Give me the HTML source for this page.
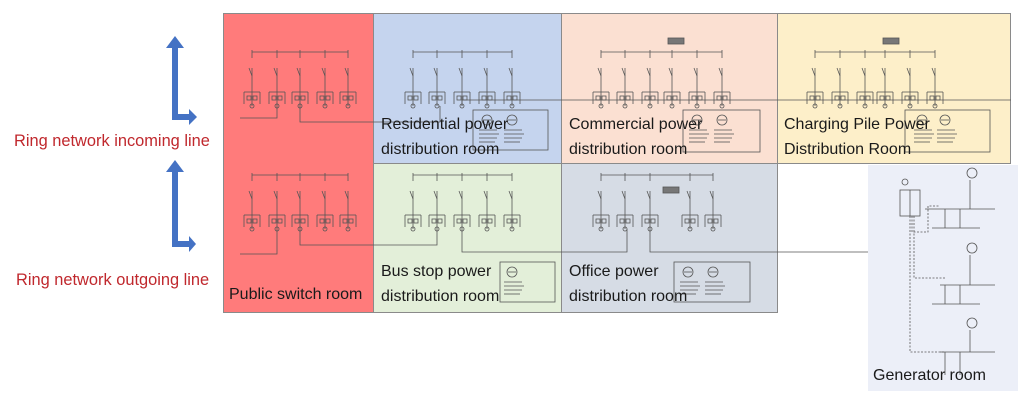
<!DOCTYPE html>
<html><head><meta charset="utf-8"><style>
html,body{margin:0;padding:0;background:#fff;}
body{width:1024px;height:401px;position:relative;overflow:hidden;font-family:"Liberation Sans","DejaVu Sans",sans-serif;}
.p{position:absolute;box-sizing:border-box;border:1px solid #8a8a8a;}
.t{position:absolute;font-size:16px;color:#1a1a1a;line-height:25px;white-space:nowrap;}
.r{position:absolute;font-size:16.4px;color:#c0282d;white-space:nowrap;}
svg{position:absolute;left:0;top:0;}
</style></head><body>
<div class="p" style="left:223px;top:13px;width:151px;height:300px;background:#ff7b7b;"></div>
<div class="p" style="left:373px;top:13px;width:189px;height:151px;background:#c5d4ee;"></div>
<div class="p" style="left:561px;top:13px;width:217px;height:151px;background:#fbe0d2;"></div>
<div class="p" style="left:777px;top:13px;width:234px;height:151px;background:#fdefc9;"></div>
<div class="p" style="left:373px;top:163px;width:189px;height:150px;background:#e3efd9;"></div>
<div class="p" style="left:561px;top:163px;width:217px;height:150px;background:#d6dce5;"></div>
<div class="p" style="left:868px;top:165px;width:150px;height:226px;background:#eceff8;border:none;"></div>

<svg width="1024" height="401" viewBox="0 0 1024 401">
<defs>
<g id="f" fill="none" stroke="#555" stroke-width="0.8">
<line x1="0" y1="-8" x2="0" y2="0"/><line x1="0" y1="10" x2="0" y2="48"/>
<line x1="-3" y1="10" x2="0" y2="18"/>
<rect x="-5" y="38" width="4" height="4"/><rect x="1" y="38" width="4" height="4"/>
<line x1="-8" y1="34" x2="8" y2="34"/><line x1="-8" y1="34" x2="-8" y2="46"/><line x1="8" y1="34" x2="8" y2="46"/>
<circle cx="0" cy="48" r="2"/>
</g>
<g id="bx" fill="none" stroke="#555" stroke-width="0.8">
<circle cx="0" cy="0" r="5"/><line x1="-4" y1="0" x2="4" y2="0"/>
<line x1="-8" y1="10" x2="10" y2="10"/><line x1="-8" y1="14" x2="12" y2="14"/><line x1="-8" y1="18" x2="10" y2="18"/><line x1="-8" y1="22" x2="8" y2="22"/>
</g>
</defs>
<g stroke="#555" stroke-width="0.8" fill="none">
<line x1="252" y1="52" x2="348" y2="52"/>
<use href="#f" x="252" y="58"/><use href="#f" x="277" y="58"/><use href="#f" x="300" y="58"/><use href="#f" x="325" y="58"/><use href="#f" x="348" y="58"/>
<polyline points="240,118 277,118 277,106"/><polyline points="300,106 300,122 373,122"/>
<line x1="252" y1="175" x2="348" y2="175"/>
<use href="#f" x="252" y="181"/><use href="#f" x="277" y="181"/><use href="#f" x="300" y="181"/><use href="#f" x="325" y="181"/><use href="#f" x="348" y="181"/>
<polyline points="240,254 277,254 277,229"/><polyline points="300,229 300,245 373,245"/>
<line x1="413" y1="52" x2="512" y2="52"/>
<use href="#f" x="413" y="58"/><use href="#f" x="437" y="58"/><use href="#f" x="462" y="58"/><use href="#f" x="487" y="58"/><use href="#f" x="512" y="58"/>
<polyline points="373,122 440,122 440,106"/><polyline points="462,106 462,100 561,100"/>
<rect x="473" y="110" width="75" height="40"/><use href="#bx" x="487" y="120"/><use href="#bx" x="512" y="120"/>
<line x1="601" y1="52" x2="722" y2="52"/>
<use href="#f" x="601" y="58"/><use href="#f" x="625" y="58"/><use href="#f" x="650" y="58"/><use href="#f" x="672" y="58"/><use href="#f" x="697" y="58"/><use href="#f" x="722" y="58"/>
<rect x="668" y="38" width="16" height="6" fill="#777"/>
<polyline points="561,100 777,100"/>
<rect x="683" y="110" width="77" height="42"/><use href="#bx" x="697" y="120"/><use href="#bx" x="722" y="120"/>
<line x1="815" y1="52" x2="935" y2="52"/>
<use href="#f" x="815" y="58"/><use href="#f" x="840" y="58"/><use href="#f" x="865" y="58"/><use href="#f" x="885" y="58"/><use href="#f" x="910" y="58"/><use href="#f" x="935" y="58"/>
<rect x="883" y="38" width="16" height="6" fill="#777"/>
<polyline points="777,100 1011,100"/>
<rect x="905" y="110" width="85" height="42"/><use href="#bx" x="922" y="120"/><use href="#bx" x="945" y="120"/>
<line x1="413" y1="175" x2="512" y2="175"/>
<use href="#f" x="413" y="181"/><use href="#f" x="437" y="181"/><use href="#f" x="462" y="181"/><use href="#f" x="487" y="181"/><use href="#f" x="512" y="181"/>
<polyline points="373,245 437,245 437,229"/><polyline points="462,229 462,252 561,252"/>
<rect x="500" y="262" width="55" height="40"/><use href="#bx" x="512" y="272"/>
<line x1="601" y1="175" x2="713" y2="175"/>
<use href="#f" x="601" y="181"/><use href="#f" x="625" y="181"/><use href="#f" x="650" y="181"/><use href="#f" x="690" y="181"/><use href="#f" x="713" y="181"/>
<rect x="663" y="187" width="16" height="6" fill="#777"/>
<polyline points="561,252 627,252 627,229"/><polyline points="650,229 650,252 868,252"/>
<rect x="674" y="262" width="76" height="40"/><use href="#bx" x="688" y="272"/><use href="#bx" x="713" y="272"/>
<rect x="900" y="190" width="20" height="26"/><line x1="910" y1="190" x2="910" y2="216"/>
<circle cx="905" cy="182" r="3"/>
<g stroke-dasharray="2,1.5">
<polyline points="912,216 912,232 928,232 928,206 940,206"/>
<polyline points="914,216 914,278 945,278"/>
<polyline points="910,216 910,352 944,352"/>
</g>
<line x1="925" y1="209" x2="995" y2="209"/><line x1="932" y1="228" x2="980" y2="228"/>
<line x1="940" y1="285" x2="995" y2="285"/><line x1="932" y1="304" x2="980" y2="304"/>
<line x1="940" y1="352" x2="995" y2="352"/>
<line x1="970" y1="180" x2="970" y2="209"/><circle cx="972" cy="173" r="5"/>
<line x1="970" y1="255" x2="970" y2="285"/><circle cx="972" cy="248" r="5"/>
<line x1="970" y1="330" x2="970" y2="352"/><circle cx="972" cy="323" r="5"/>
<line x1="945" y1="209" x2="945" y2="228"/><line x1="960" y1="209" x2="960" y2="228"/>
<line x1="945" y1="285" x2="945" y2="304"/><line x1="960" y1="285" x2="960" y2="304"/>
<line x1="945" y1="352" x2="945" y2="375"/><line x1="960" y1="352" x2="960" y2="375"/>
</g>
<g fill="#4472c4">
<polygon points="172,48 166,48 175,36 184,48 178,48 178,114 189,114 189,109 197,117 189,125 189,120 172,120"/>
<polygon points="172,172 166,172 175,160 184,172 178,172 178,241 189,241 189,236 196,244 189,252 189,247 172,247"/>
</g>
</svg>

<div class="r" style="left:14px;top:132px;">Ring network incoming line</div>
<div class="r" style="left:16px;top:271px;">Ring network outgoing line</div>
<div class="t" style="left:229px;top:282px;">Public switch room</div>
<div class="t" style="left:381px;top:112px;">Residential power<br>distribution room</div>
<div class="t" style="left:569px;top:112px;">Commercial power<br>distribution room</div>
<div class="t" style="left:784px;top:112px;">Charging Pile Power<br>Distribution Room</div>
<div class="t" style="left:381px;top:259px;">Bus stop power<br>distribution room</div>
<div class="t" style="left:569px;top:259px;">Office power<br>distribution room</div>
<div class="t" style="left:873px;top:363px;">Generator room</div>
</body></html>
